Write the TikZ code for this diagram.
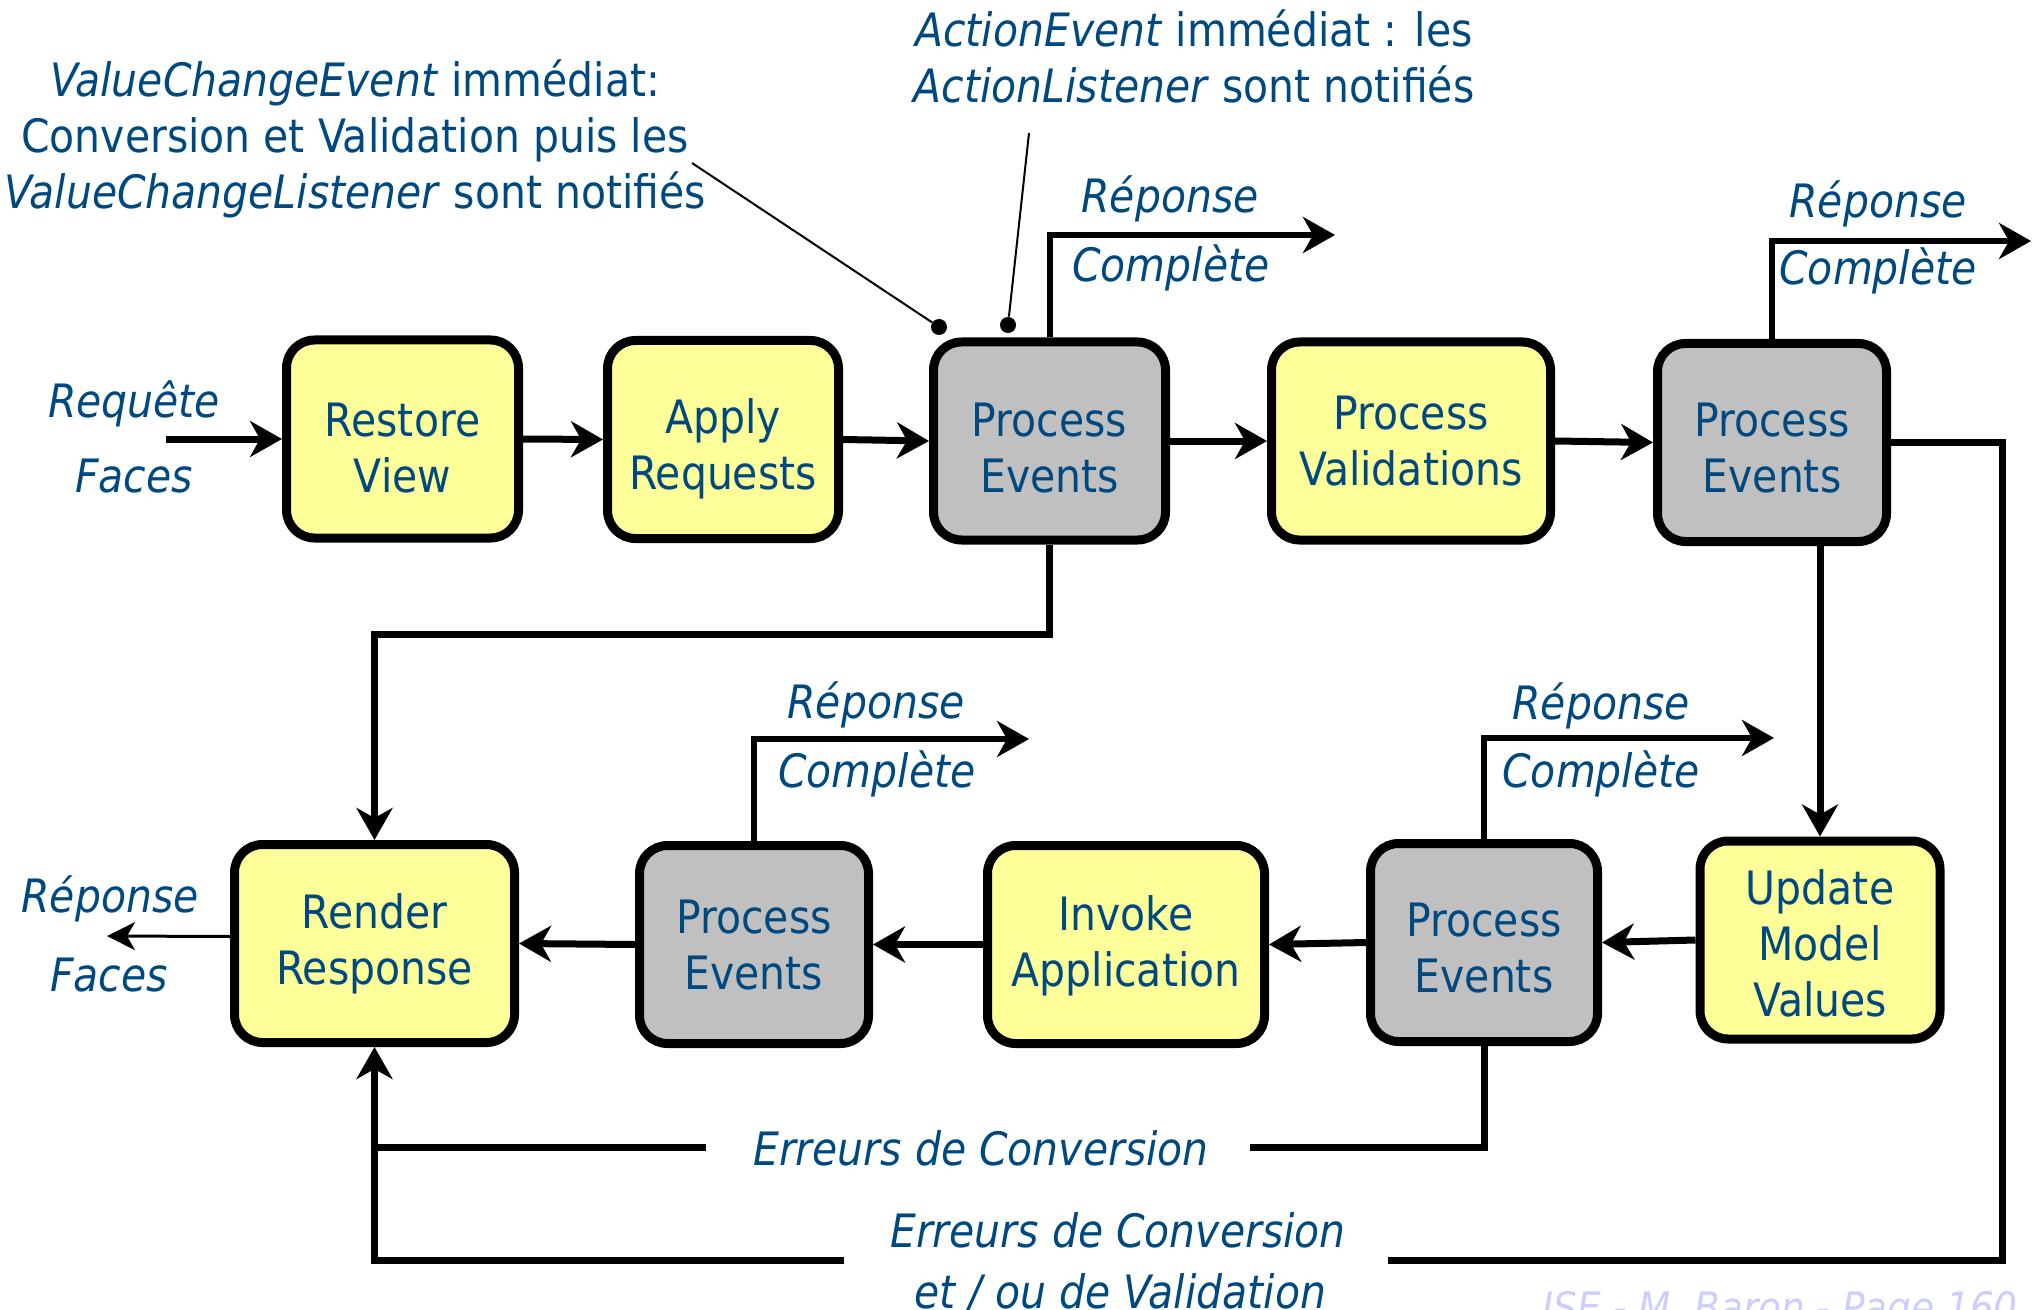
\documentclass[tikz,border=0pt]{standalone}
\usepackage{fontspec}
\setmainfont{DejaVu Sans}[FakeStretch=0.89]
\usetikzlibrary{arrows.meta}
\definecolor{txtblue}{RGB}{0,73,128}
\definecolor{boxyellow}{RGB}{255,255,153}
\definecolor{boxgray}{RGB}{192,192,192}
\definecolor{footblue}{RGB}{205,205,255}
\newcommand\mainsz{\fontsize{23pt}{28pt}\selectfont}
\newcommand\footsz{\fontsize{21pt}{26pt}\selectfont}
% top strut of given height (pt) for first line, fixed depth strut for last line
\newcommand\topstr[1]{\rule{0pt}{#1pt}}
\newcommand\botstr{\rule[-6pt]{0pt}{6pt}}
\tikzset{
  phase/.style={draw=black, line width=4.5pt, rounded corners=14pt, minimum height=99pt,
    inner sep=0pt, align=center, text=txtblue, font=\mainsz},
  yel/.style={phase, fill=boxyellow},
  gry/.style={phase, fill=boxgray},
  flow/.style={line width=3.5pt, -{Stealth[length=16pt,width=18pt,inset=5pt]}},
  resp/.style={line width=3pt, -{Stealth[length=16pt,width=18pt,inset=5pt]}},
  loopline/.style={line width=3.5pt},
  thinflow/.style={line width=1.5pt, -{Stealth[length=14pt,width=14pt,inset=4pt]}},
  leader/.style={line width=1pt},
  dotnode/.style={circle, fill=black, inner sep=0pt, minimum size=8pt},
  ann/.style={anchor=base, inner sep=0pt, text=txtblue, font=\mainsz},
  lbl/.style={anchor=base, inner sep=0pt, text=txtblue, font=\mainsz\itshape},
}
\begin{document}
\begin{tikzpicture}[x=0.5pt,y=-0.5pt]
\useasboundingbox (0,0) rectangle (2038,1310);

% phases
\node[yel, minimum width=116pt]   (RV)  at (402.5,439)   {\topstr{31.3}Restore\\View\botstr};
\node[yel, minimum width=115.5pt] (AR)  at (723,439.5)   {\topstr{27.8}Apply\\Requests\botstr};
\node[gry, minimum width=116pt]   (PE1) at (1049.5,441)  {\topstr{29.3}Process\\Events\botstr};
\node[yel, minimum width=139.5pt] (PV)  at (1411,441)    {\topstr{22.8}Process\\Validations\botstr};
\node[gry, minimum width=114.5pt] (PE2) at (1772,442.5)  {\topstr{28.3}Process\\Events\botstr};
\node[yel, minimum width=120pt]   (UMV) at (1820,940)    {\topstr{26.3}Update\\Model\\Values\botstr};
\node[gry, minimum width=113.5pt] (PE3) at (1484,942.5)  {\topstr{28.3}Process\\Events\botstr};
\node[yel, minimum width=138.5pt] (IA)  at (1126,944.5)  {\topstr{20.3}Invoke\\Application\botstr};
\node[gry, minimum width=114.5pt] (PE4) at (754,944.5)   {\topstr{23.3}Process\\Events\botstr};
\node[yel, minimum width=140pt]   (RR)  at (374.5,943.5) {\topstr{18.8}Render\\Response\botstr};

% main flow
\coordinate (reqin) at (166,439);
\draw[flow] (reqin) -- (RV.west);
\draw[flow] (RV.east) -- (AR.west);
\draw[flow] (AR.east) -- (PE1.west);
\draw[flow] (PE1.east) -- (PV.west);
\draw[flow] (PV.east) -- (PE2.west);
\draw[flow] (PE2.south -| UMV.north) -- (UMV.north);
\draw[flow] (UMV.west) -- (PE3.east);
\draw[flow] (PE3.west) -- (IA.east);
\draw[flow] (IA.west) -- (PE4.east);
\draw[flow] (PE4.west) -- (RR.east);

% PE1 to Render Response
\coordinate (c1) at (374.5,634);
\draw[flow] (PE1.south) |- (c1) -- (RR.north);

% response complete outputs
\coordinate (o1) at (1335,235);
\coordinate (o2) at (2031,241);
\coordinate (o3) at (1774,738);
\coordinate (o4) at (1029,739);
\draw[resp] (PE1.north) |- (o1);
\draw[resp] (PE2.north) |- (o2);
\draw[resp] (PE3.north) |- (o3);
\draw[resp] (PE4.north) |- (o4);

% erreurs de conversion
\coordinate (e1r) at (1250,1147);
\coordinate (e1l) at (706,1147);
\coordinate (j1) at (374.5,1147);
\draw[loopline] (PE3.south) |- (e1r);
\draw[loopline] (e1l) -- (j1);

% erreurs de conversion et / ou de validation
\coordinate (rc) at (2002,1260);
\coordinate (e2r) at (1388,1260);
\coordinate (e2l) at (844,1260);
\coordinate (bl) at (374.5,1260);
\draw[loopline] (PE2.east) -| (rc) -- (e2r);
\draw[flow] (e2l) -- (bl) -- (RR.south);

% output of faces response
\coordinate (rfout) at (107,936);
\draw[thinflow] ([yshift=3.5pt]RR.west) -- (rfout);

% leaders
\node[dotnode] (d1) at (939,327) {};
\node[dotnode] (d2) at (1008,325) {};
\coordinate (l1) at (692,163);
\coordinate (l2) at (1029,133);
\draw[leader] (l1) -- (d1);
\draw[leader] (l2) -- (d2);

% annotations
\node[ann] (vce1) at (355,97)  {\textit{ValueChangeEvent} immédiat:};
\node[ann] (vce2) at (355,153) {Conversion et Validation puis les};
\node[ann] (vce3) at (355,209) {\textit{ValueChangeListener} sont notifiés};
\node[ann] (ae1) at (1194,47)  {\textit{ActionEvent} immédiat : les};
\node[ann] (ae2) at (1194,103) {\textit{ActionListener} sont notifiés};

% labels
\node[lbl] (r1) at (1170,213) {Réponse};
\node[lbl] (k1) at (1171,282) {Complète};
\node[lbl] (r2) at (1878,218) {Réponse};
\node[lbl] (k2) at (1878,285) {Complète};
\node[lbl] (r4) at (876,718)  {Réponse};
\node[lbl] (k4) at (877,787)  {Complète};
\node[lbl] (r3) at (1601,719) {Réponse};
\node[lbl] (k3) at (1601,787) {Complète};
\node[lbl] (rq) at (134,417)  {Requête};
\node[lbl] (fq) at (134,492)  {Faces};
\node[lbl] (rr) at (110,912)  {Réponse};
\node[lbl] (fr) at (109,991)  {Faces};
\node[lbl] (err1) at (981,1165) {Erreurs de Conversion};
\node[lbl] (err2) at (1118,1247) {Erreurs de Conversion};
\node[lbl] (err3) at (1120,1308) {et / ou de Validation};
\node[anchor=base east, inner sep=0pt, text=footblue, font=\footsz\itshape] (foot) at (2018,1322) {ISE - M. Baron - Page 160};
\end{tikzpicture}
\end{document}
